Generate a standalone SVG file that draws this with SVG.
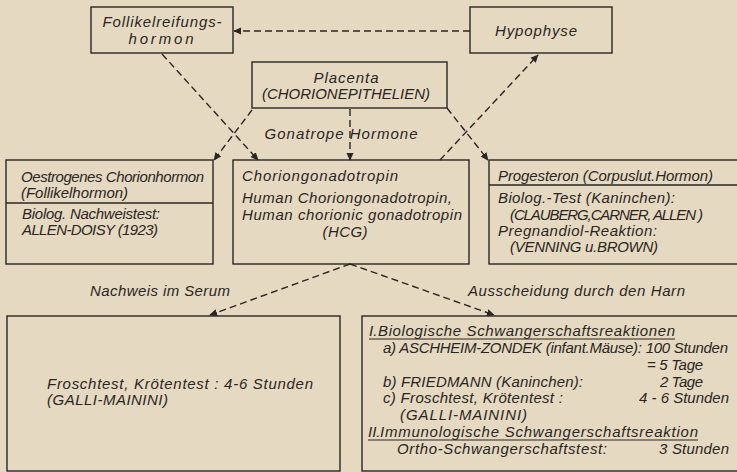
<svg xmlns="http://www.w3.org/2000/svg" width="737" height="472" viewBox="0 0 737 472">
<defs>
<marker id="ah" viewBox="0 0 10 10" refX="9" refY="5" markerWidth="8" markerHeight="8" markerUnits="userSpaceOnUse" orient="auto">
<path d="M0,0.5 L10,5 L0,9.5 Z" fill="#2a2622"/>
</marker>
<style>
text{font-family:"Liberation Sans","DejaVu Sans",sans-serif;font-style:italic;font-size:15px;fill:#2a2622}
.box{fill:none;stroke:#2a2622;stroke-width:1.4}
.dash{fill:none;stroke:#2a2622;stroke-width:1.4;stroke-dasharray:7 4;marker-end:url(#ah)}
.ul{stroke:#2a2622;stroke-width:1.1}
.c{text-anchor:middle}
.r{text-anchor:end}
</style>
</defs>
<rect x="0" y="0" width="737" height="472" fill="#e6d9c2"/>

<g id="follikel">
<rect class="box" x="91" y="7" width="142" height="46"/>
<text class="c" x="162" y="27" textLength="119" lengthAdjust="spacing">Follikelreifungs-</text>
<text class="c" x="161" y="44" textLength="65" lengthAdjust="spacing">hormon</text>
</g>

<g id="hypophyse">
<rect class="box" x="470" y="7" width="142" height="46"/>
<text class="c" x="536" y="36" textLength="82" lengthAdjust="spacing">Hypophyse</text>
</g>

<g id="placenta">
<rect class="box" x="252" y="62" width="195" height="46"/>
<text class="c" x="346" y="83" textLength="65" lengthAdjust="spacing">Placenta</text>
<text class="c" x="346" y="99" textLength="168" lengthAdjust="spacing">(CHORIONEPITHELIEN)</text>
</g>

<g id="oestrogen">
<rect class="box" x="6" y="160" width="207" height="104"/>
<line class="box" x1="6" y1="203" x2="213" y2="203"/>
<text x="21" y="182" textLength="183" lengthAdjust="spacing">Oestrogenes Chorionhormon</text>
<text x="21" y="198" textLength="107" lengthAdjust="spacing">(Follikelhormon)</text>
<text x="22" y="219" textLength="138" lengthAdjust="spacing">Biolog. Nachweistest:</text>
<text x="22" y="235" textLength="136" lengthAdjust="spacing">ALLEN-DOISY (1923)</text>
</g>

<g id="hcg">
<rect class="box" x="233" y="160" width="236" height="104"/>
<text x="242" y="181" textLength="156" lengthAdjust="spacing">Choriongonadotropin</text>
<text x="242" y="203" textLength="210" lengthAdjust="spacing">Human Choriongonadotropin,</text>
<text x="242" y="220" textLength="220" lengthAdjust="spacing">Human chorionic gonadotropin</text>
<text class="c" x="345" y="237" textLength="45" lengthAdjust="spacing">(HCG)</text>
</g>

<g id="progesteron">
<rect class="box" x="489" y="160" width="260" height="104"/>
<line class="box" x1="489" y1="185" x2="737" y2="185"/>
<text x="498" y="181" textLength="215" lengthAdjust="spacing">Progesteron (Corpuslut.Hormon)</text>
<text x="498" y="203" textLength="177" lengthAdjust="spacing">Biolog.-Test (Kaninchen):</text>
<text x="510" y="220" textLength="193" lengthAdjust="spacing">(CLAUBERG,CARNER, ALLEN )</text>
<text x="498" y="236" textLength="159" lengthAdjust="spacing">Pregnandiol-Reaktion:</text>
<text x="510" y="252" textLength="148" lengthAdjust="spacing">(VENNING u.BROWN)</text>
</g>

<g id="serum">
<rect class="box" x="7" y="316" width="333" height="155"/>
<text x="47" y="389" textLength="266" lengthAdjust="spacing">Froschtest, Krötentest :   4-6 Stunden</text>
<text x="47" y="405" textLength="121" lengthAdjust="spacing">(GALLI-MAININI)</text>
</g>

<g id="harn">
<rect class="box" x="362" y="316" width="390" height="155"/>
<text x="369" y="336" font-family="Liberation Serif, serif">I.</text>
<text x="378" y="336" textLength="297" lengthAdjust="spacing">Biologische Schwangerschaftsreaktionen</text>
<line class="ul" x1="369" y1="339" x2="675" y2="339"/>
<text x="383" y="353" textLength="345" lengthAdjust="spacing">a) ASCHHEIM-ZONDEK (infant.Mäuse): 100 Stunden</text>
<text class="r" x="703" y="370" textLength="56" lengthAdjust="spacing">= 5 Tage</text>
<text x="383" y="387" textLength="200" lengthAdjust="spacing">b) FRIEDMANN (Kaninchen):</text>
<text class="r" x="703" y="387" textLength="43" lengthAdjust="spacing">2 Tage</text>
<text x="383" y="403" textLength="180" lengthAdjust="spacing">c) Froschtest, Krötentest :</text>
<text class="r" x="729" y="403" textLength="90" lengthAdjust="spacing">4 - 6 Stunden</text>
<text x="400" y="420" textLength="127" lengthAdjust="spacing">(GALLI-MAININI)</text>
<text x="368" y="437" font-family="Liberation Serif, serif">II.</text>
<text x="380" y="437" textLength="318" lengthAdjust="spacing">Immunologische Schwangerschaftsreaktion</text>
<line class="ul" x1="368" y1="440" x2="698" y2="440"/>
<text x="397" y="454" textLength="210" lengthAdjust="spacing">Ortho-Schwangerschaftstest:</text>
<text class="r" x="729" y="454" textLength="70" lengthAdjust="spacing">3 Stunden</text>
</g>

<g id="connectors">
<line class="dash" x1="470" y1="31" x2="234" y2="31"/>
<line class="dash" x1="162" y1="54" x2="258" y2="160"/>
<line class="dash" x1="252" y1="110" x2="214" y2="160"/>
<line class="dash" x1="350" y1="109" x2="350" y2="160"/>
<line class="dash" x1="447" y1="108" x2="488" y2="160"/>
<line class="dash" x1="440" y1="160" x2="538" y2="55"/>
<line class="dash" x1="350" y1="264" x2="210" y2="315"/>
<line class="dash" x1="350" y1="264" x2="494" y2="315"/>
</g>

<g id="labels">
<text class="c" x="341" y="139" textLength="153" lengthAdjust="spacing">Gonatrope Hormone</text>
<text x="90" y="296" textLength="140" lengthAdjust="spacing">Nachweis im Serum</text>
<text x="468" y="296" textLength="217" lengthAdjust="spacing">Ausscheidung durch den Harn</text>
</g>
</svg>
